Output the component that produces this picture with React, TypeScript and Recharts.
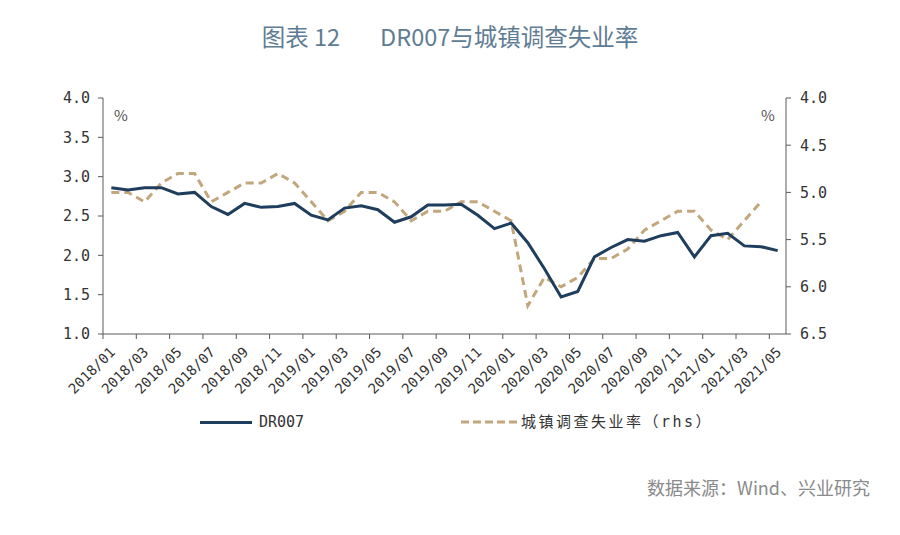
import React from 'react';
import { LineChart, Line, XAxis, YAxis } from 'recharts';

// monthly, 2018/01 .. 2021/05
const months = [
  '2018/01', '2018/02', '2018/03', '2018/04', '2018/05', '2018/06',
  '2018/07', '2018/08', '2018/09', '2018/10', '2018/11', '2018/12',
  '2019/01', '2019/02', '2019/03', '2019/04', '2019/05', '2019/06',
  '2019/07', '2019/08', '2019/09', '2019/10', '2019/11', '2019/12',
  '2020/01', '2020/02', '2020/03', '2020/04', '2020/05', '2020/06',
  '2020/07', '2020/08', '2020/09', '2020/10', '2020/11', '2020/12',
  '2021/01', '2021/02', '2021/03', '2021/04', '2021/05',
];

const dr007 = [
  2.86, 2.83, 2.86, 2.86, 2.78, 2.80, 2.62, 2.52, 2.66, 2.61, 2.62, 2.66,
  2.51, 2.45, 2.60, 2.63, 2.58, 2.42, 2.49, 2.64, 2.64, 2.65, 2.51, 2.34,
  2.41, 2.16, 1.83, 1.47, 1.54, 1.98, 2.10, 2.20, 2.18, 2.25, 2.29, 1.98,
  2.25, 2.28, 2.12, 2.11, 2.06,
];

const unemployment = [
  5.0, 5.0, 5.1, 4.9, 4.8, 4.8, 5.1, 5.0, 4.9, 4.9, 4.8, 4.9,
  5.1, 5.3, 5.2, 5.0, 5.0, 5.1, 5.3, 5.2, 5.2, 5.1, 5.1, 5.2,
  5.3, 6.2, 5.9, 6.0, 5.9, 5.7, 5.7, 5.6, 5.4, 5.3, 5.2, 5.2,
  5.4, 5.5, 5.3, 5.1, null,
];

const leftTicks = [1, 1.5, 2, 2.5, 3, 3.5, 4];
const rightTicks = [4, 4.5, 5, 5.5, 6, 6.5];
const xTicks = months.map((_, i) => i).filter((i) => i % 2 === 0);

// points sit mid-month
const data = months.map((m, i) => ({
  t: i + 0.5,
  month: m,
  dr007: dr007[i],
  unemployment: unemployment[i],
}));

const AXIS = '#5a5a5a';
const NAVY = '#1f3d5c';
const TAN = '#c2a77d';
const MONO = "'DejaVu Sans Mono', 'Noto Sans CJK SC', monospace";
const CJK = "'Noto Sans CJK SC', sans-serif";

const XTick = (props: any) => {
  const { x, y, payload } = props;
  return (
    <g transform={`translate(${x + 13},${y + 14})`}>
      <text
        x={0}
        y={0}
        textAnchor="end"
        transform="rotate(-45)"
        fontFamily={MONO}
        fontSize={14}
        fill="#333"
      >
        {months[payload.value]}
      </text>
    </g>
  );
};

export default function App() {
  return (
    <div style={{ position: 'relative', width: 900, height: 535, background: '#fff' }}>
      <style>{'body{margin:0}'}</style>
      <div
        style={{
          position: 'absolute',
          top: 21,
          left: 0,
          width: 900,
          textAlign: 'center',
          fontFamily: CJK,
          fontSize: 23.5,
          color: '#5f7c95',
          lineHeight: '30px',
        }}
      >
        图表 12<span style={{ marginLeft: 40 }}>DR007与城镇调查失业率</span>
      </div>

      <LineChart
        width={900}
        height={535}
        data={data}
        margin={{ top: 98, right: 64, bottom: 131, left: 53 }}
      >
        <XAxis
          type="number"
          dataKey="t"
          domain={[0, 41]}
          ticks={xTicks}
          interval={0}
          height={70}
          axisLine={{ stroke: AXIS }}
          tickLine={{ stroke: AXIS }}
          tickSize={5}
          tickMargin={0}
          tick={<XTick />}
        />
        <YAxis
          yAxisId="left"
          domain={[1, 4]}
          ticks={leftTicks}
          width={50}
          axisLine={{ stroke: AXIS }}
          tickLine={{ stroke: AXIS }}
          tickSize={5}
          tickMargin={8}
          tickFormatter={(v: number) => v.toFixed(1)}
          tick={{ fontFamily: MONO, fontSize: 15, fill: '#333' }}
        />
        <YAxis
          yAxisId="right"
          orientation="right"
          reversed
          domain={[4, 6.5]}
          ticks={rightTicks}
          width={50}
          axisLine={{ stroke: AXIS }}
          tickLine={{ stroke: AXIS }}
          tickSize={5}
          tickMargin={9}
          tickFormatter={(v: number) => v.toFixed(1)}
          tick={{ fontFamily: MONO, fontSize: 15, fill: '#333', textAnchor: 'start' }}
        />
        <Line
          yAxisId="right"
          type="linear"
          dataKey="unemployment"
          stroke={TAN}
          strokeWidth={3}
          strokeDasharray="8 5"
          dot={false}
          connectNulls={false}
          isAnimationActive={false}
        />
        <Line
          yAxisId="left"
          type="linear"
          dataKey="dr007"
          stroke={NAVY}
          strokeWidth={3}
          dot={false}
          isAnimationActive={false}
        />
      </LineChart>

      <div style={{ position: 'absolute', left: 114, top: 104, fontFamily: CJK, fontSize: 15, color: '#555' }}>%</div>
      <div style={{ position: 'absolute', left: 761, top: 104, fontFamily: CJK, fontSize: 15, color: '#555' }}>%</div>

      {/* legend */}
      <div style={{ position: 'absolute', left: 200, top: 421, width: 52, height: 3, background: NAVY }} />
      <div style={{ position: 'absolute', left: 259, top: 412, fontFamily: MONO, fontSize: 15, color: '#333', lineHeight: '20px' }}>
        DR007
      </div>
      <svg style={{ position: 'absolute', left: 461, top: 420 }} width={56} height={4}>
        <line x1={0} y1={2} x2={56} y2={2} stroke={TAN} strokeWidth={3} strokeDasharray="8 4" />
      </svg>
      <div
        style={{
          position: 'absolute',
          left: 521,
          top: 412,
          fontFamily: MONO,
          fontSize: 15,
          color: '#333',
          lineHeight: '20px',
          letterSpacing: 2.5,
        }}
      >
        城镇调查失业率（rhs）
      </div>

      <div
        style={{
          position: 'absolute',
          right: 30,
          top: 475,
          fontFamily: CJK,
          fontSize: 18,
          color: '#8a8a8a',
          lineHeight: '24px',
        }}
      >
        数据来源：Wind、兴业研究
      </div>
    </div>
  );
}
